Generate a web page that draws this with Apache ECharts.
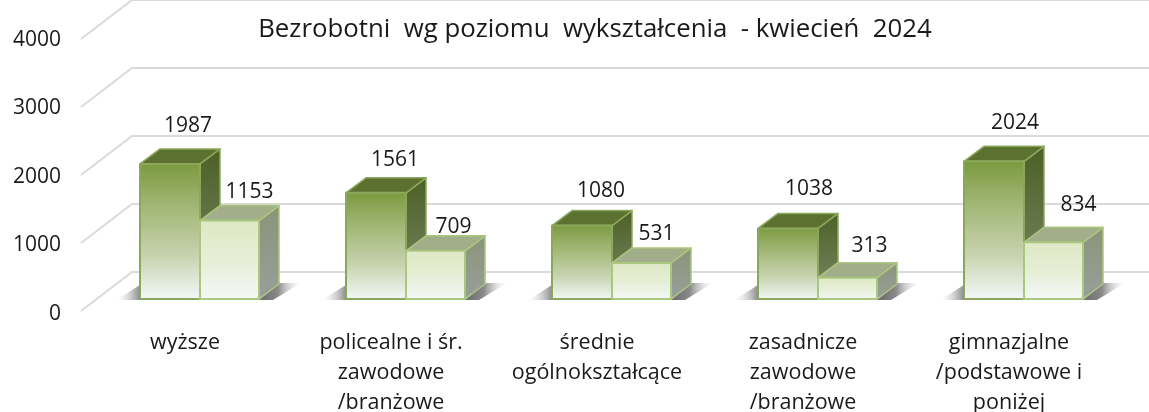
<!DOCTYPE html>
<html><head><meta charset="utf-8">
<style>html,body{margin:0;padding:0;background:#fff}#c{width:1149px;height:412px}</style>
<script src="https://cdn.jsdelivr.net/npm/echarts@6/dist/echarts.min.js"></script>
</head><body><div id="c"></div>
<script>
const categories = ['wyższe', 'policealne i śr.\nzawodowe\n/branżowe', 'średnie\nogólnokształcące', 'zasadnicze\nzawodowe\n/branżowe', 'gimnazjalne\n/podstawowe i\nponiżej'];
const seriesDark = [1987, 1561, 1080, 1038, 2024];
const seriesLight = [1153, 709, 531, 313, 834];
const yTicks = [0, 1000, 2000, 3000, 4000];
const titleText = 'Bezrobotni  wg poziomu  wykształcenia  - kwiecień  2024';

const FONT = '"Open Sans", sans-serif';
const DX = 20, DY = -15;
const lg = (stops) => new echarts.graphic.LinearGradient(0, 0, 0, 1, stops.map((c, i) => ({offset: i / (stops.length - 1), color: c})));

const darkStyle = {
  front: ['#7b9a3f', '#a3b878', '#c6d2ad', '#f3f8f8'], top: '#5c7030', side: ['#4b6025', '#7d8a6c'],
  border: '#8aa85c', left: true, width: 60
};
const lightStyle = {
  front: ['#dde8c4', '#e6eed5', '#f4f8f8'], top: '#a2ad8a', side: ['#8a9478', '#989f9b'],
  border: '#abc67e', left: false, width: 59
};
const labelOff = {dark: [[18, -38], [19, -33], [19, -35], [21, -39], [21, -38]], light: [[20, -29], [18, -24], [15, -29], [22, -32], [25, -37]]};

function barRender(st, offs) {
  return function (params, api) {
    const i = api.value(0), v = api.value(1);
    const base = api.coord([i, 0]), top = api.coord([i, v]);
    const x0 = base[0] - (st.left ? st.width : 0), x1 = x0 + st.width, y0 = base[1], y1 = top[1];
    const off = offs[i];
    const poly = (pts, fill, lw) => ({type: 'polygon', shape: {points: pts},
      style: {fill: fill, stroke: st.border, lineWidth: lw === undefined ? 1.5 : lw, lineJoin: 'round'}});
    return {type: 'group', children: [
      poly([[x1, y0], [x1 + DX, y0 + DY], [x1 + DX, y1 + DY], [x1, y1]], lg(st.side)),
      poly([[x0, y1], [x0 + DX, y1 + DY], [x1 + DX, y1 + DY], [x1, y1]], st.top),
      poly([[x0, y0], [x1, y0], [x1, y1], [x0, y1]], lg(st.front), 2),
      {type: 'text', z2: 10, x: (x0 + x1) / 2 + off[0], y: y1 + off[1],
        style: {text: String(v), fill: '#1a1a1a', font: '21px ' + FONT, align: 'center', verticalAlign: 'middle'}}
    ]};
  };
}
function shadowRender(params, api) {
  const b = api.coord([api.value(0), 0]);
  const L = b[0] - 60, R = b[0] + 59, y = b[1] + 1;
  return {type: 'group', children: [
    {type: 'polygon', shape: {points: [[R, y], [R + DX, y + DY - 2], [R + 42, y + DY - 2], [R + 14, y]]},
      style: {fill: new echarts.graphic.LinearGradient(0, 0, 1, 0, [{offset: 0, color: '#6a6a6a'}, {offset: 0.45, color: '#8a8a8a'}, {offset: 1, color: 'rgba(220,220,220,0)'}])}},
    {type: 'polygon', shape: {points: [[L - 24, y], [L, y - 15], [L + 4, y - 15], [L + 4, y]]},
      style: {fill: new echarts.graphic.LinearGradient(0, 0, 1, 0, [{offset: 0, color: 'rgba(220,220,220,0)'}, {offset: 1, color: '#666'}])}}
  ]};
}
function gridRender(params, api) {
  const p = api.coord([0, api.value(0)]);
  const bx = p[0] + 51, by = p[1] - 39;
  return {type: 'polyline', shape: {points: [[p[0], p[1]], [bx, by], [api.getWidth(), by]]},
    style: {fill: 'none', stroke: '#dadada', lineWidth: 2}};
}

const chart = echarts.init(document.getElementById('c'), null, {renderer: 'canvas'});
chart.setOption({
  animation: false,
  backgroundColor: '#fff',
  title: {text: titleText, left: 590, top: 25, textAlign: 'center', textVerticalAlign: 'middle',
    textStyle: {fontFamily: FONT, fontSize: 25.8, fontWeight: 'normal', color: '#1a1a1a'}},
  grid: [
    {left: 97, width: 1030, top: 27, height: 272, outerBoundsMode: 'none'},
    {left: 81, width: 1068, top: 39, height: 272, outerBoundsMode: 'none'},
    {left: 81, width: 1068, top: 40, height: 274, outerBoundsMode: 'none'}
  ],
  xAxis: [
    {type: 'category', gridIndex: 0, data: categories, axisLine: {show: false}, axisTick: {show: false},
      axisLabel: {interval: 0, margin: 29, lineHeight: 30, padding: [0, 30, 0, 0], verticalAlign: 'top',
        fontFamily: FONT, fontSize: 21.5, color: '#1a1a1a'}},
    {type: 'value', gridIndex: 1, min: 0, max: 1, show: false},
    {type: 'value', gridIndex: 2, min: 0, max: 1, show: false}
  ],
  yAxis: [
    {type: 'value', gridIndex: 0, min: 0, max: 4000, interval: 1000, show: false},
    {type: 'value', gridIndex: 1, min: 0, max: 4000, interval: 1000, show: false},
    {type: 'value', gridIndex: 2, min: 0, max: 4000, interval: 1000, axisLine: {show: false}, axisTick: {show: false},
      splitLine: {show: false}, axisLabel: {margin: 20, fontFamily: FONT, fontSize: 21, color: '#1a1a1a', formatter: v => String(v)}}
  ],
  series: [
    {type: 'custom', xAxisIndex: 1, yAxisIndex: 1, data: yTicks.map(v => [v]), encode: {y: 0}, clip: false, silent: true, renderItem: gridRender, z: 1},
    {type: 'custom', xAxisIndex: 0, yAxisIndex: 0, data: seriesDark.map((v, i) => [i, v]), clip: false, silent: true, renderItem: shadowRender, z: 2},
    {type: 'custom', xAxisIndex: 0, yAxisIndex: 0, data: seriesDark.map((v, i) => [i, v]), clip: false, renderItem: barRender(darkStyle, labelOff.dark), z: 3},
    {type: 'custom', xAxisIndex: 0, yAxisIndex: 0, data: seriesLight.map((v, i) => [i, v]), clip: false, renderItem: barRender(lightStyle, labelOff.light), z: 4}
  ]
});
</script></body></html>
